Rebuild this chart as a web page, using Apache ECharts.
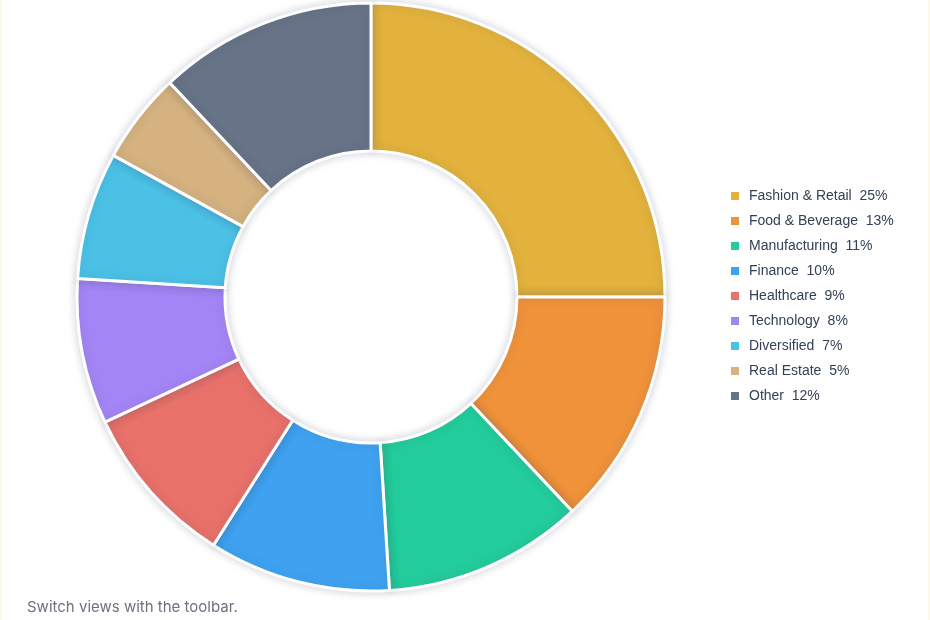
<!DOCTYPE html>
<html>
<head>
<meta charset="utf-8">
<script src="https://cdn.jsdelivr.net/npm/echarts@6/dist/echarts.min.js"></script>
<style>
html,body{margin:0;padding:0;background:#fdf8ec;}
#wrap{position:absolute;left:2px;top:0;width:926px;height:620px;background:#ffffff;}
#chart{position:absolute;left:0;top:0;width:930px;height:620px;}
</style>
</head>
<body>
<div id="wrap"></div>
<div id="chart"></div>
<script>
const categories = ['Fashion & Retail','Food & Beverage','Manufacturing','Finance','Healthcare','Technology','Diversified','Real Estate','Other'];
const shares = [25, 13, 11, 10, 9, 8, 7, 5, 12];
const palette = ['#e3b23c','#f0923a','#23cc9b','#3ea2f0','#e8716a','#a485f5','#4bc1e6','#d5b27f','#677386'];
const caption = 'Switch views with the toolbar.';

const chart = echarts.init(document.getElementById('chart'));
const data = categories.map((c,i)=>({name:c, value:shares[i]}));
const lookup = {};
categories.forEach((c,i)=>lookup[c]=shares[i]);

chart.setOption({
  backgroundColor: 'transparent',
  color: palette,
  animation: false,
  legend: {
    orient: 'vertical',
    left: 724,
    top: 184,
    itemWidth: 10,
    itemHeight: 10,
    itemGap: 11,
    icon: 'rect',
    textStyle: {color:'#334155', fontSize:14, fontFamily:'"Liberation Sans", Arial, sans-serif', padding:[0,0,0,4]},
    formatter: n => n + '  ' + lookup[n] + '%'
  },
  graphic: [{
    type:'text', left: 27, top: 600,
    style:{text: caption, fill:'#6b7280', fontSize:15, fontFamily:'Inter, "Noto Sans", sans-serif'}
  }],
  series: [{
    type: 'pie',
    center: [371, 297],
    radius: [146, 294],
    startAngle: 90,
    clockwise: true,
    label: {show:false},
    labelLine: {show:false},
    itemStyle: {
      borderColor:'#ffffff', borderWidth:3,
      shadowBlur: 10, shadowColor:'rgba(60,70,100,0.22)'
    },
    data: data
  }]
});
</script>
</body>
</html>
